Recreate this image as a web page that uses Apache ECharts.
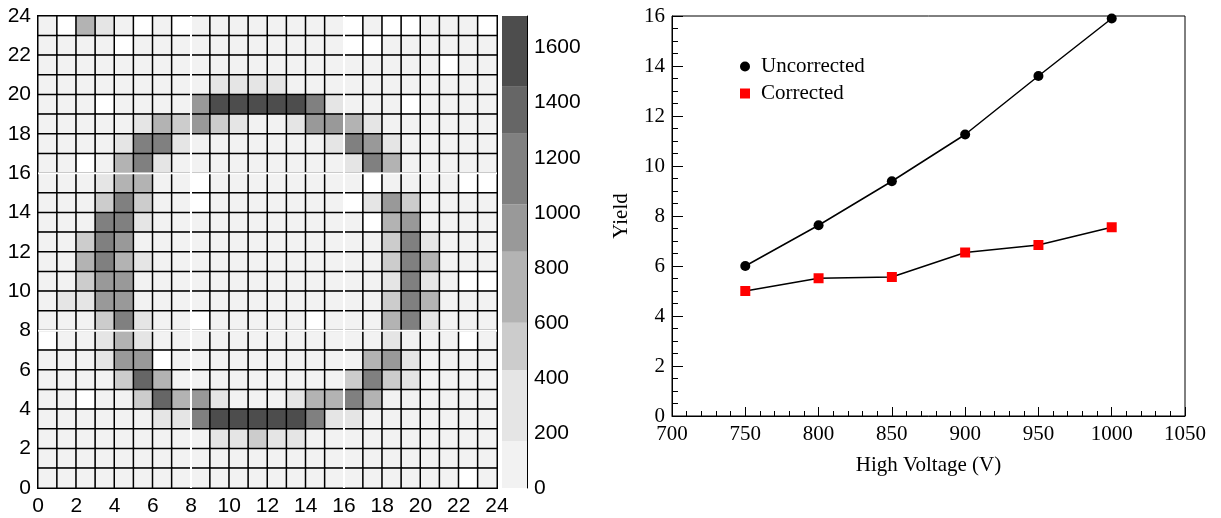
<!DOCTYPE html>
<html>
<head>
<meta charset="utf-8">
<title>PMT map and yield</title>
<script src="https://cdn.jsdelivr.net/npm/echarts/dist/echarts.min.js"></script>
<style>
  html, body { margin: 0; padding: 0; background: #fff; }
  #main { width: 1221px; height: 518px; }
</style>
</head>
<body>
<div id="main"></div>
<script>
// counts per pixel, rows written as seen: top row is y=23, last row is y=0
const mapRows = [
  [120,0,720,300,120,0,120,0,120,120,120,120,120,120,120,120,0,120,0,0,120,120,120,0],
  [120,120,120,120,0,120,120,120,120,120,120,120,120,120,120,120,0,0,120,120,120,120,120,120],
  [120,120,120,120,120,120,120,120,120,120,120,120,120,120,120,120,120,120,120,120,120,0,120,120],
  [120,120,120,120,120,120,120,120,120,300,300,300,300,120,120,120,120,120,120,120,120,120,120,120],
  [120,120,120,0,120,120,120,120,940,1600,1600,1600,1600,1600,1160,300,120,120,120,0,120,120,120,120],
  [120,120,120,120,120,300,720,520,940,520,300,120,120,300,940,940,720,300,120,120,120,120,120,120],
  [120,120,120,120,300,1160,1160,300,120,120,120,120,120,120,120,300,1160,940,300,120,120,120,120,120],
  [120,120,0,120,720,1160,300,120,120,120,120,120,120,120,120,120,300,1160,720,120,120,120,120,120],
  [120,120,120,300,720,720,120,120,0,120,120,120,120,120,120,120,120,0,120,120,120,120,0,0],
  [120,120,120,520,1160,520,120,120,0,120,120,120,120,120,120,120,0,300,940,520,120,120,120,120],
  [120,120,120,1160,1160,300,120,120,120,120,120,120,120,120,120,120,120,0,720,940,120,120,120,120],
  [120,120,520,1160,940,120,120,120,120,120,120,120,120,120,120,120,120,120,520,1160,300,120,120,120],
  [120,120,720,1160,720,300,120,120,120,120,120,120,120,120,120,120,120,120,520,1160,720,120,120,120],
  [120,120,520,940,940,120,120,120,120,120,120,120,120,120,120,120,120,120,300,1160,300,120,0,0],
  [120,300,300,940,940,120,120,120,120,120,120,120,120,120,120,120,120,120,520,1160,720,120,120,120],
  [120,120,120,520,1160,300,120,120,0,120,120,120,120,120,0,120,120,120,720,1160,300,120,120,120],
  [0,120,120,300,720,300,120,120,120,120,120,120,120,120,120,120,120,120,300,120,120,120,0,120],
  [120,120,120,300,940,940,0,120,120,120,120,120,120,120,120,120,120,720,940,300,120,120,120,120],
  [120,120,120,120,520,1380,720,120,120,120,120,120,120,120,120,120,520,1160,520,300,120,120,120,120],
  [120,120,0,120,120,520,1380,720,940,300,120,120,120,300,720,720,1160,720,120,120,120,120,120,120],
  [120,120,120,120,120,120,300,300,1160,1600,1600,1600,1600,1600,1160,300,300,120,120,120,120,120,120,120],
  [120,120,120,120,120,120,120,120,120,300,300,520,300,300,120,120,120,120,120,120,120,120,120,120],
  [120,120,120,120,120,120,120,120,120,120,120,120,120,120,120,120,120,120,120,120,120,120,120,120],
  [120,120,120,120,120,120,120,120,120,120,120,120,120,120,120,120,120,120,120,120,120,120,0,120]
];
// palette levels of the colour scale
const colorEdges = [0, 171, 429, 600, 858, 1030, 1287, 1458, 1715];
const colorGrays = ['#f2f2f2', '#e5e5e5', '#cccccc', '#b3b3b3', '#999999', '#808080', '#666666', '#4d4d4d'];
const sectorLines = [8, 16];

// yield vs high voltage
const voltage = [750, 800, 850, 900, 950, 1000];
const uncorrected = [6.0, 7.63, 9.39, 11.26, 13.6, 15.9];
const corrected = [5.0, 5.51, 5.56, 6.54, 6.84, 7.55];

const sans = "'Liberation Sans', Arial, sans-serif";
const serif = "'Liberation Serif', 'Times New Roman', serif";
const plain = v => String(v);

const N = mapRows.length;
const cats = [];
for (let i = 0; i < N; i++) cats.push(String(i));
const heatData = [];
mapRows.forEach((row, r) => {
  row.forEach((v, x) => heatData.push([x, N - 1 - r, v]));
});

const pieces = [{ lte: 0, color: '#ffffff' }];
for (let i = 0; i < colorGrays.length; i++) {
  pieces.push({ gt: colorEdges[i], lte: colorEdges[i + 1], color: colorGrays[i] });
}

const series = [{
  type: 'heatmap',
  xAxisIndex: 0,
  yAxisIndex: 0,
  data: heatData,
  silent: true,
  itemStyle: { borderColor: '#000', borderWidth: 1.5 },
  emphasis: { disabled: true }
}];

// white sector boundaries over the map
sectorLines.forEach(p => {
  series.push({ type: 'line', xAxisIndex: 1, yAxisIndex: 1, z: 5, silent: true, symbol: 'none',
    lineStyle: { color: '#fff', width: 2 }, data: [[p, 0], [p, N]] });
  series.push({ type: 'line', xAxisIndex: 1, yAxisIndex: 1, z: 5, silent: true, symbol: 'none',
    lineStyle: { color: '#fff', width: 2 }, data: [[0, p], [N, p]] });
});

// colour bar as stacked bands
for (let i = 0; i < colorGrays.length; i++) {
  series.push({
    type: 'bar', stack: 'bar', xAxisIndex: 2, yAxisIndex: 2, silent: true,
    barWidth: '100%', itemStyle: { color: colorGrays[i] },
    data: [colorEdges[i + 1] - colorEdges[i]]
  });
}

series.push({
  name: 'Uncorrected', type: 'line', xAxisIndex: 3, yAxisIndex: 3,
  data: voltage.map((v, i) => [v, uncorrected[i]]),
  symbol: 'circle', symbolSize: 10,
  itemStyle: { color: '#000' },
  lineStyle: { color: '#000', width: 1.5 }
});
series.push({
  name: 'Corrected', type: 'line', xAxisIndex: 3, yAxisIndex: 3,
  data: voltage.map((v, i) => [v, corrected[i]]),
  symbol: 'rect', symbolSize: 10,
  itemStyle: { color: '#ff0000' },
  lineStyle: { color: '#000', width: 1.5 }
});

const blackLine = { show: true, lineStyle: { color: '#000', width: 1 } };
const sansLabel = { fontFamily: sans, fontSize: 21, color: '#000', formatter: plain };
const serifLabel = { fontFamily: serif, fontSize: 21, color: '#000', formatter: plain };

const chart = echarts.init(document.getElementById('main'));
chart.setOption({
  animation: false,
  textStyle: { fontFamily: serif },
  grid: [
    { left: 38, top: 16, width: 459, height: 472 },
    { left: 38, top: 16, width: 459, height: 472 },
    { left: 502, top: 16, width: 25, height: 472 },
    { left: 672, top: 16, width: 513, height: 400, show: true, borderColor: '#000', borderWidth: 1 }
  ],
  visualMap: {
    type: 'piecewise', show: false, seriesIndex: 0, dimension: 2, pieces: pieces
  },
  legend: {
    orient: 'vertical', left: 735, top: 51,
    itemWidth: 10, itemHeight: 10, itemGap: 6,
    textStyle: { fontFamily: serif, fontSize: 21, color: '#000', padding: [0, 0, 0, 6] },
    data: [{ name: 'Uncorrected', icon: 'circle' }, { name: 'Corrected', icon: 'rect' }]
  },
  xAxis: [
    { gridIndex: 0, type: 'category', data: cats, show: false },
    {
      gridIndex: 1, type: 'value', min: 0, max: 24, interval: 2,
      axisLine: blackLine,
      axisTick: { inside: true, length: 7, lineStyle: { color: '#000' } },
      minorTick: { show: true, splitNumber: 2, length: 5, lineStyle: { color: '#000' } },
      splitLine: { show: false },
      axisLabel: Object.assign({ margin: 8 }, sansLabel)
    },
    { gridIndex: 2, type: 'category', data: [''], show: false },
    {
      gridIndex: 3, type: 'value', min: 700, max: 1050, interval: 50,
      name: 'High Voltage (V)', nameLocation: 'middle', nameGap: 39,
      nameTextStyle: { fontFamily: serif, fontSize: 21, color: '#000' },
      axisLine: blackLine,
      axisTick: { inside: true, length: 9, lineStyle: { color: '#000' } },
      minorTick: { show: true, splitNumber: 5, length: 5, lineStyle: { color: '#000' } },
      splitLine: { show: false },
      axisLabel: Object.assign({ margin: 8 }, serifLabel)
    }
  ],
  yAxis: [
    { gridIndex: 0, type: 'category', data: cats, show: false },
    {
      gridIndex: 1, type: 'value', min: 0, max: 24, interval: 2,
      axisLine: blackLine,
      axisTick: { inside: true, length: 12, lineStyle: { color: '#000' } },
      minorTick: { show: true, splitNumber: 2, length: 6, lineStyle: { color: '#000' } },
      splitLine: { show: false },
      axisLabel: Object.assign({ margin: 7 }, sansLabel)
    },
    {
      gridIndex: 2, type: 'value', position: 'right', min: 0, max: 1715, interval: 200,
      axisLine: blackLine,
      axisTick: { inside: true, length: 11, lineStyle: { color: '#000' } },
      splitLine: { show: false },
      axisLabel: Object.assign({ margin: 7, showMaxLabel: false }, sansLabel)
    },
    {
      gridIndex: 3, type: 'value', min: 0, max: 16, interval: 2,
      name: 'Yield', nameLocation: 'middle', nameGap: 40, nameRotate: 90,
      nameTextStyle: { fontFamily: serif, fontSize: 21, color: '#000' },
      axisLine: blackLine,
      axisTick: { inside: true, length: 11, lineStyle: { color: '#000' } },
      minorTick: { show: true, splitNumber: 4, length: 6, lineStyle: { color: '#000' } },
      splitLine: { show: false },
      axisLabel: Object.assign({ margin: 7 }, serifLabel)
    }
  ],
  series: series
});
</script>
</body>
</html>
